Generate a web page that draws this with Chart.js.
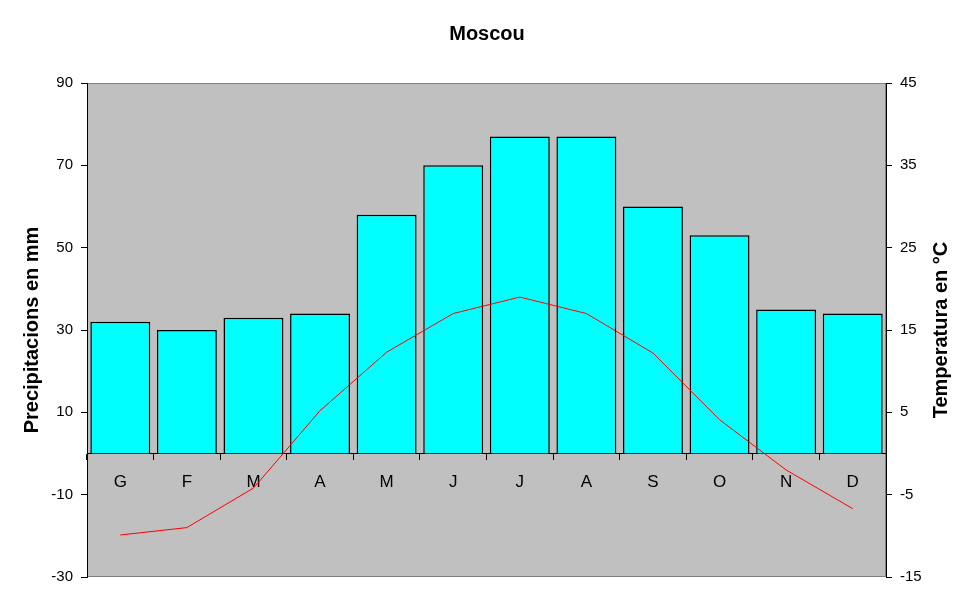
<!DOCTYPE html>
<html>
<head>
<meta charset="utf-8">
<script src="https://cdn.jsdelivr.net/npm/chart.js@4"></script>
<style>
  body { margin: 0; background: #fff; }
</style>
</head>
<body>
<canvas id="chart" width="974" height="604"></canvas>
<script>
// Moscou climate chart
const months = ["G", "F", "M", "A", "M", "J", "J", "A", "S", "O", "N", "D"];
const precipitation = [32, 30, 33, 34, 58, 70, 77, 77, 60, 53, 35, 34];
const temperature = [-9.9, -9, -4.2, 5.2, 12.3, 17, 19, 17, 12.2, 4.1, -2, -6.7];

const FONT = "'Liberation Sans', Arial, sans-serif";

// grey plot background + top/bottom frame
const plotBackground = {
    id: "plotBackground",
    beforeDraw(chart) {
        const { ctx, chartArea: a } = chart;
        ctx.save();
        ctx.fillStyle = "#C0C0C0";
        ctx.fillRect(a.left, a.top, a.right - a.left, a.bottom - a.top);
        ctx.strokeStyle = "#808080";
        ctx.lineWidth = 1;
        ctx.strokeRect(a.left + 0.5, a.top + 0.5, a.right - a.left - 1, a.bottom - a.top - 1);
        ctx.restore();
    }
};

// right axis title reads bottom-to-top like the left one
const rightTitle = {
    id: "rightTitle",
    afterDraw(chart) {
        const { ctx, chartArea: a } = chart;
        ctx.save();
        ctx.translate(941, (a.top + a.bottom) / 2);
        ctx.rotate(-Math.PI / 2);
        ctx.font = "bold 20px " + FONT;
        ctx.fillStyle = "#000";
        ctx.textAlign = "center";
        ctx.textBaseline = "middle";
        ctx.fillText("Temperatura en °C", 0, 0);
        ctx.restore();
    }
};

new Chart(document.getElementById("chart"), {
    data: {
        labels: months,
        datasets: [
            {
                type: "line",
                label: "Temperatura",
                data: temperature,
                yAxisID: "y1",
                borderColor: "#FF0000",
                borderWidth: 1,
                tension: 0,
                pointRadius: 0,
                order: 0
            },
            {
                type: "bar",
                label: "Precipitacions",
                data: precipitation,
                yAxisID: "y",
                backgroundColor: "#00FFFF",
                borderColor: "#000000",
                borderWidth: 1.5,
                barPercentage: 0.9,
                categoryPercentage: 1.0,
                order: 1
            }
        ]
    },
    options: {
        responsive: false,
        animation: false,
        layout: { padding: { top: 0, bottom: 27, left: 0, right: 0 } },
        plugins: {
            legend: { display: false },
            tooltip: { enabled: false },
            title: {
                display: true,
                text: "Moscou",
                color: "#000",
                font: { family: FONT, size: 20, weight: "bold" },
                padding: { top: 22, bottom: 37 }
            }
        },
        scales: {
            x: {
                type: "category",
                position: { y: 0 },
                offset: true,
                grid: { offset: true, drawOnChartArea: false, drawTicks: true, tickLength: 6, color: "#000" },
                border: { display: true, color: "#000" },
                ticks: {
                    color: "#000",
                    font: { family: FONT, size: 17 },
                    padding: 13,
                    maxRotation: 0,
                    autoSkip: false
                }
            },
            y: {
                position: "left",
                min: -30,
                max: 90,
                ticks: { stepSize: 20, color: "#000", font: { family: FONT, size: 15 }, padding: 8 },
                grid: { drawOnChartArea: false, drawTicks: true, tickLength: 6, color: "#000" },
                border: { display: true, color: "#000" },
                title: {
                    display: true,
                    text: "Precipitacions en mm",
                    color: "#000",
                    font: { family: FONT, size: 20, weight: "bold" },
                    padding: { top: 20, bottom: 0 }
                },
                afterFit(scale) { scale.width = 87; }
            },
            y1: {
                position: "right",
                min: -15,
                max: 45,
                ticks: { stepSize: 10, color: "#000", font: { family: FONT, size: 15 }, padding: 8 },
                grid: { drawOnChartArea: false, drawTicks: true, tickLength: 6, color: "#000" },
                border: { display: true, color: "#000" },
                afterFit(scale) { scale.width = 88; }
            }
        }
    },
    plugins: [plotBackground, rightTitle]
});
</script>
</body>
</html>
